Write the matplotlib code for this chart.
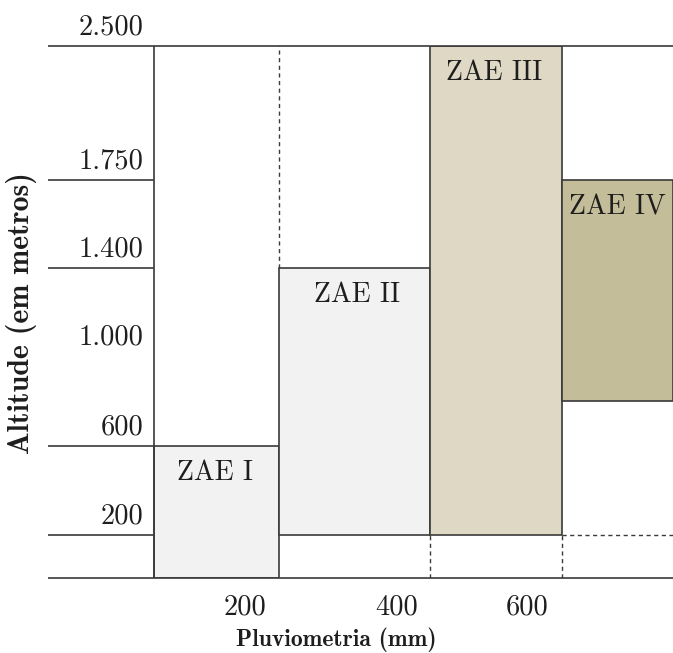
import numpy as np
import matplotlib
matplotlib.use("Agg")
import matplotlib.pyplot as plt

# Zonas agroecológicas: faixas de pluviometria (mm) e altitude (m)
ZONES = ["ZAE I", "ZAE II", "ZAE III", "ZAE IV"]
RAIN_LEFT = [70, 245, 450, 650]
RAIN_RIGHT = [245, 450, 650, 810]
ALT_LOW = [0, 200, 200, 800]
ALT_HIGH = [600, 1400, 2500, 1750]
ZONE_COLORS = ["#f2f2f2", "#f2f2f2", "#ded8c5", "#c4bd99"]

ALT_TICKS = [200, 600, 1000, 1400, 1750, 2500]
ALT_TICK_LABELS = ["200", "600", "1.000", "1.400", "1.750", "2.500"]
RAIN_TICKS = [200, 400, 600]
RAIN_TICK_LABELS = ["200", "400", "600"]

# the drawing is a schematic, not to scale: piecewise axes
X_BREAKS = [-80, 200, 400, 600, 810]
X_POS = [0, 197, 349, 479, 625]
Y_BREAKS = [0, 200, 600, 1000, 1400, 1750, 2500]
Y_POS = [0, 43, 132, 222, 310, 398, 532]

LINE = "#3a3a3a"
TEXT = "#1e1e1e"
SERIF = "cmr10"
BOLD = "cmb10"


def fwd(b, p):
    return lambda v: np.interp(v, b, p)


def inv(b, p):
    return lambda v: np.interp(v, p, b)


W, H = 673, 653
fig = plt.figure(figsize=(W / 100, H / 100), dpi=100)
ax = fig.add_axes([48 / W, (H - 578) / H, 1 - 48 / W, (578 - 46) / H])
ax.set_xscale("function", functions=(fwd(X_BREAKS, X_POS), inv(X_BREAKS, X_POS)))
ax.set_yscale("function", functions=(fwd(Y_BREAKS, Y_POS), inv(Y_BREAKS, Y_POS)))
ax.set_xlim(X_BREAKS[0], X_BREAKS[-1])
ax.set_ylim(Y_BREAKS[0], Y_BREAKS[-1])
ax.axis("off")

xmin, xmax = X_BREAKS[0], X_BREAKS[-1]

# zone boxes
for name, l, r, lo, hi, c in zip(ZONES, RAIN_LEFT, RAIN_RIGHT, ALT_LOW, ALT_HIGH, ZONE_COLORS):
    ax.bar(l, hi - lo, width=r - l, bottom=lo, align="edge", color=c,
           edgecolor=LINE, linewidth=1.2, zorder=2)
    ax.annotate(name, xy=((l + r) / 2, hi), xytext=(0, -10), textcoords="offset points",
                ha="center", va="top", fontsize=20, family=SERIF, color=TEXT, zorder=4)

# solid guide lines
ax.hlines([0, 2500], xmin, xmax, color=LINE, lw=1.2, clip_on=False, zorder=3)
ax.hlines([200, 600, 1400, 1750], xmin, RAIN_LEFT[0], color=LINE, lw=1.2, zorder=3)
ax.vlines(RAIN_LEFT[0], 0, 2500, color=LINE, lw=1.2, zorder=3)

# dashed guide lines
dash = dict(color=LINE, lw=1.0, linestyles=(0, (3, 2.5)), zorder=3)
ax.hlines(200, RAIN_RIGHT[2], xmax, **dash)
ax.vlines(RAIN_LEFT[1], ALT_HIGH[1], 2500, **dash)
ax.vlines([RAIN_LEFT[2], RAIN_LEFT[3]], 0, 200, **dash)

# tick labels
for v, lab in zip(ALT_TICKS, ALT_TICK_LABELS):
    ax.annotate(lab, xy=(RAIN_LEFT[0], v), xytext=(-7, 4), textcoords="offset points",
                ha="right", va="bottom", fontsize=20.5, family=SERIF, color=TEXT,
                annotation_clip=False)
for v, lab in zip(RAIN_TICKS, RAIN_TICK_LABELS):
    ax.annotate(lab, xy=(v, 0), xytext=(0, -12), textcoords="offset points",
                ha="center", va="top", fontsize=20.5, family=SERIF, color=TEXT,
                annotation_clip=False)

fig.text(336 / W, 1 - 640 / H, "Pluviometria (mm)", ha="center", va="center",
         fontsize=17, family=BOLD, color=TEXT)
fig.text(22 / W, 1 - 313 / H, "Altitude (em metros)", ha="center", va="center",
         rotation=90, fontsize=21.5, family=BOLD, color=TEXT)

fig.savefig("out.png", dpi=100)
